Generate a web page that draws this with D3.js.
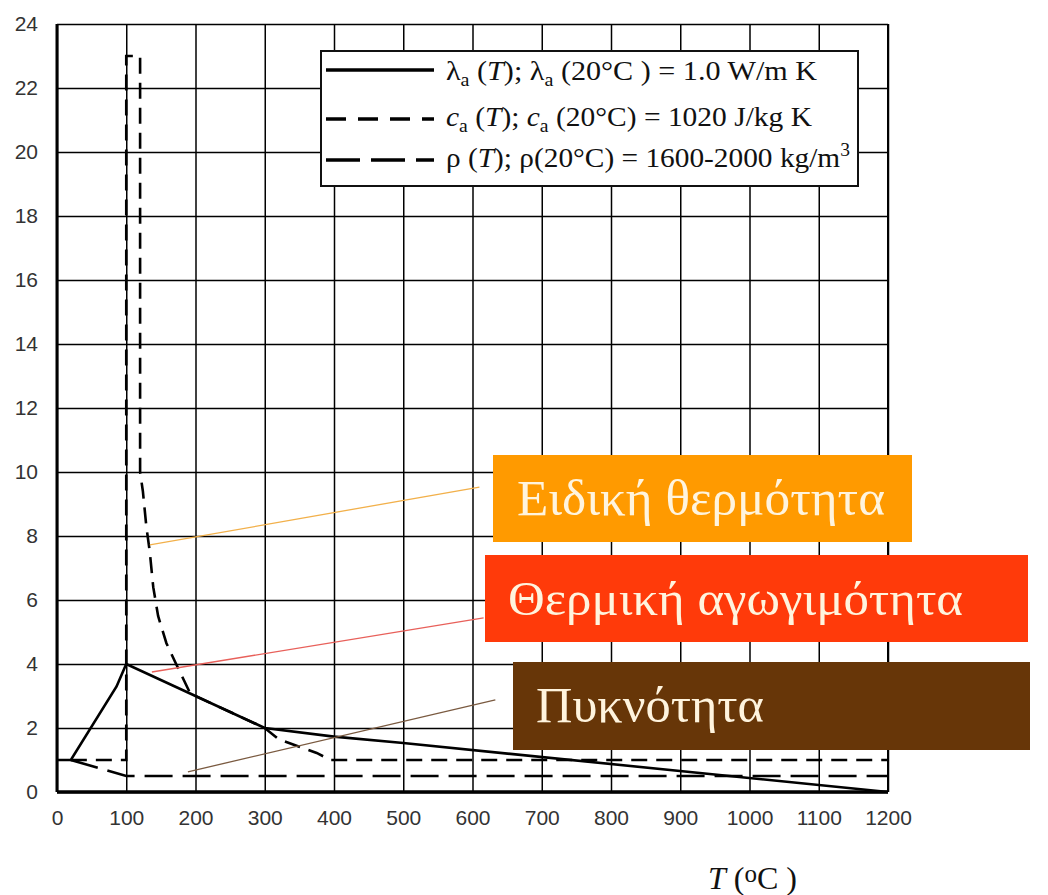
<!DOCTYPE html>
<html>
<head>
<meta charset="utf-8">
<script src="https://cdn.jsdelivr.net/npm/d3@7"></script>
<style>
  body { margin: 0; background: #fff; }
</style>
</head>
<body>
<svg id="chart" width="1048" height="895"></svg>
<script>
// tick labels
const xTickValues = [0, 100, 200, 300, 400, 500, 600, 700, 800, 900, 1000, 1100, 1200];
const yTickValues = [0, 2, 4, 6, 8, 10, 12, 14, 16, 18, 20, 22, 24];

// lambda_a(T) / lambda_a(20C)  -- solid
const lambdaT = [0, 20, 86, 100, 200, 300, 400, 500, 1200];
const lambdaV = [1, 1, 3.3, 4, 3, 2, 1.73, 1.53, 0];

// c_a(T) / c_a(20C)  -- short dashes
const heatT = [20, 100, 100, 120, 120, 124, 129, 134, 139, 146, 158, 172, 192, 200, 300, 320, 375, 395, 1200];
const heatV = [1, 1, 23, 23, 10, 9.4, 8.3, 7.5, 6.4, 5.5, 4.65, 4.0, 3.1, 3, 2, 1.65, 1.22, 1, 1];

// rho(T) / rho(20C)  -- long dashes
const densT = [20, 100, 1200];
const densV = [1, 0.5, 0.5];

const calloutLabels = ["Ειδική θερμότητα", "Θερμική αγωγιμότητα", "Πυκνότητα"];

const svg = d3.select("#chart");
const x = d3.scaleLinear().domain([0, 1200]).range([57, 888]);
const y = d3.scaleLinear().domain([0, 24]).range([792, 24]);

const sans = "'Liberation Sans', Arial, sans-serif";
const serif = "'Liberation Serif', 'Times New Roman', serif";

// grid + tick labels
svg.append("g")
  .attr("transform", "translate(0," + y(0) + ")")
  .call(d3.axisBottom(x).tickValues(xTickValues).tickSize(-(y(0) - y(24))).tickPadding(18).tickFormat(d3.format("d")))
  .call(g => g.select(".domain").remove())
  .call(g => g.selectAll("line").attr("stroke", "#000").attr("stroke-width", 1.5))
  .call(g => g.selectAll("text").attr("font-family", sans).attr("font-size", 21).attr("fill", "#333"));

svg.append("g")
  .attr("transform", "translate(" + x(0) + ",0)")
  .call(d3.axisLeft(y).tickValues(yTickValues).tickSize(-(x(1200) - x(0))).tickPadding(19))
  .call(g => g.select(".domain").remove())
  .call(g => g.selectAll("line").attr("stroke", "#000").attr("stroke-width", 1.5))
  .call(g => g.selectAll("text").attr("font-family", sans).attr("font-size", 21).attr("fill", "#333"));

// frame
svg.append("line").attr("x1", x(0)).attr("x2", x(0)).attr("y1", y(0)).attr("y2", y(24))
  .attr("stroke", "#000").attr("stroke-width", 3);
svg.append("line").attr("x1", x(0)).attr("x2", x(1200)).attr("y1", y(0)).attr("y2", y(0))
  .attr("stroke", "#000").attr("stroke-width", 3.5);
svg.append("line").attr("x1", x(1200)).attr("x2", x(1200)).attr("y1", y(0)).attr("y2", y(24))
  .attr("stroke", "#000").attr("stroke-width", 2);

// curves
const line = d3.line().x(d => x(d[0])).y(d => y(d[1]));

svg.append("path").datum(d3.zip(densT, densV)).attr("d", line)
  .attr("fill", "none").attr("stroke", "#000").attr("stroke-width", 2.6).attr("stroke-dasharray", "28,10");
svg.append("path").datum(d3.zip(heatT, heatV)).attr("d", line)
  .attr("fill", "none").attr("stroke", "#000").attr("stroke-width", 2.6).attr("stroke-dasharray", "16,9");
svg.append("path").datum(d3.zip(lambdaT, lambdaV)).attr("d", line)
  .attr("fill", "none").attr("stroke", "#000").attr("stroke-width", 2.6);

// legend
const legend = svg.append("g");
legend.append("rect").attr("x", 321).attr("y", 51).attr("width", 537).attr("height", 135)
  .attr("fill", "#fff").attr("stroke", "#111").attr("stroke-width", 2);

const legendRows = [
  { dash: null, ly: 70, ty: 80, len: 371, parts: [
    { t: "λ" }, { t: "a", sub: true }, { t: " (" }, { t: "T", it: true }, { t: "); λ" }, { t: "a", sub: true },
    { t: " (20°C ) = 1.0 W/m K" }] },
  { dash: "20,12", ly: 119, ty: 126, len: 366, parts: [
    { t: "c", it: true }, { t: "a", sub: true }, { t: " (" }, { t: "T", it: true }, { t: "); " },
    { t: "c", it: true }, { t: "a", sub: true }, { t: " (20°C) = 1020 J/kg K" }] },
  { dash: "34,11", ly: 160, ty: 167, len: 404, parts: [
    { t: "ρ (" }, { t: "T", it: true }, { t: "); ρ(20°C) = 1600-2000 kg/m" }, { t: "3", sup: true }] }
];

legendRows.forEach(r => {
  legend.append("line").attr("x1", 326).attr("x2", 434).attr("y1", r.ly).attr("y2", r.ly)
    .attr("stroke", "#000").attr("stroke-width", 3.5).attr("stroke-dasharray", r.dash);
  const t = legend.append("text").attr("x", 446).attr("y", r.ty)
    .attr("font-family", serif).attr("font-size", 27).attr("fill", "#111")
    .attr("textLength", r.len).attr("lengthAdjust", "spacingAndGlyphs");
  let shift = 0;
  r.parts.forEach(p => {
    const want = p.sub ? 6 : p.sup ? -11 : 0;
    const ts = t.append("tspan").text(p.t).attr("dy", want - shift);
    shift = want;
    if (p.it) ts.attr("font-style", "italic");
    if (p.sub || p.sup) ts.attr("font-size", 18);
  });
});

// axis title
const xt = svg.append("text").attr("x", 708).attr("y", 889)
  .attr("font-family", serif).attr("font-size", 32).attr("fill", "#111");
xt.append("tspan").attr("font-style", "italic").text("T");
xt.append("tspan").text(" (");
xt.append("tspan").attr("dy", -7).attr("font-size", 25).text("o");
xt.append("tspan").attr("dy", 7).text("C )");

// callouts: leader lines in data units, boxes in page units
const callouts = [
  { from: [134, 7.72], to: [610, 9.53], lineColor: "#f2b04a", fill: "#ff9a00",
    box: [493, 455, 419, 87], tx: 517, len: 368, size: 50 },
  { from: [137, 3.75], to: [616, 5.44], lineColor: "#e8605a", fill: "#ff3a0a",
    box: [485, 555, 543, 87], tx: 508, len: 455, size: 48 },
  { from: [189, 0.63], to: [633, 2.88], lineColor: "#7a5a40", fill: "#673608",
    box: [513, 662, 517, 88], tx: 536, len: 228, size: 50 }
];

callouts.forEach(c => {
  svg.append("line")
    .attr("x1", x(c.from[0])).attr("y1", y(c.from[1]))
    .attr("x2", x(c.to[0])).attr("y2", y(c.to[1]))
    .attr("stroke", c.lineColor).attr("stroke-width", 1.3);
});

callouts.forEach((c, i) => {
  svg.append("rect").attr("x", c.box[0]).attr("y", c.box[1])
    .attr("width", c.box[2]).attr("height", c.box[3]).attr("fill", c.fill);
  svg.append("text").attr("x", c.tx).attr("y", c.box[1] + c.box[3] / 2 + 16)
    .attr("font-family", serif).attr("font-size", c.size).attr("fill", "#fff4de")
    .attr("textLength", c.len).attr("lengthAdjust", "spacingAndGlyphs")
    .text(calloutLabels[i]);
});
</script>
</body>
</html>
